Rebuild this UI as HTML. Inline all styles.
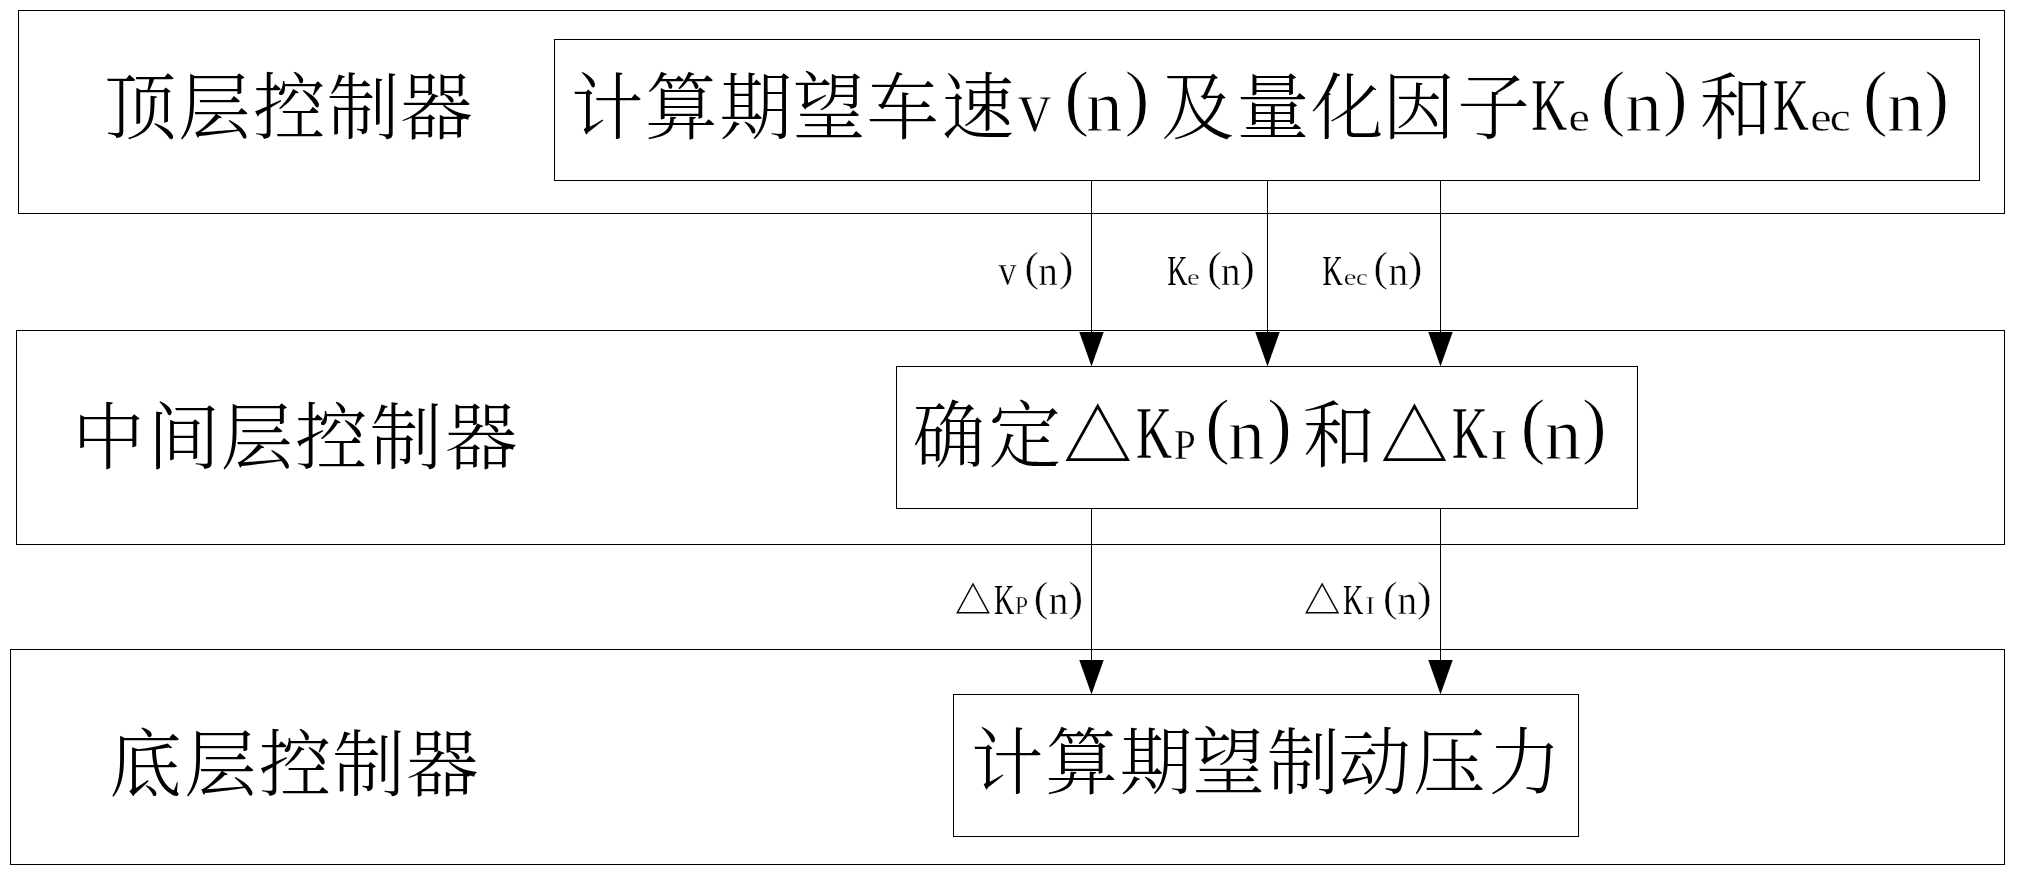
<!DOCTYPE html>
<html lang="zh-CN">
<head>
<meta charset="utf-8">
<title>分层控制器结构图</title>
<style>
html,body{margin:0;padding:0;background:#fff;}
body{width:2019px;height:877px;overflow:hidden;}
svg{display:block;will-change:transform;}
.box{fill:none;stroke:#000;stroke-width:1;shape-rendering:crispEdges;}
.ln{stroke:#000;stroke-width:1;shape-rendering:crispEdges;}
.ah{fill:#000;stroke:none;}
text{fill:#000;font-family:"Liberation Serif","Noto Serif CJK SC",serif;white-space:pre;}
.c{font-family:"Noto Serif CJK SC","Liberation Serif",serif;font-weight:300;}
.l{font-family:"Liberation Serif","Noto Serif CJK SC",serif;font-weight:400;}
.d{font-weight:400;}
.t{stroke:#fff;stroke-width:1.00px;}
.u{stroke:#fff;stroke-width:0.35px;}
.w{stroke:#fff;stroke-width:0.45px;}
.z{stroke:#fff;stroke-width:0.30px;}
.k{stroke:#fff;stroke-width:0.30px;}
.j{stroke:#fff;stroke-width:0.00px;}
</style>
</head>
<body>
<svg width="2019" height="877" viewBox="0 0 2019 877">
<rect x="0" y="0" width="2019" height="877" fill="#fff"/>
<rect class="box" x="18.5" y="10.5" width="1986" height="203"/>
<rect class="box" x="554.5" y="39.5" width="1425" height="141"/>
<rect class="box" x="16.5" y="330.5" width="1988" height="214"/>
<rect class="box" x="896.5" y="366.5" width="741" height="142"/>
<rect class="box" x="10.5" y="649.5" width="1994" height="215"/>
<rect class="box" x="953.5" y="694.5" width="625" height="142"/>
<line class="ln" x1="1091.5" y1="180" x2="1091.5" y2="333"/>
<polygon class="ah" points="1079.3,332 1103.7,332 1091.5,366.5"/>
<line class="ln" x1="1267.5" y1="180" x2="1267.5" y2="333"/>
<polygon class="ah" points="1255.3,332 1279.7,332 1267.5,366.5"/>
<line class="ln" x1="1440.5" y1="180" x2="1440.5" y2="333"/>
<polygon class="ah" points="1428.3,332 1452.7,332 1440.5,366.5"/>
<line class="ln" x1="1091.5" y1="508" x2="1091.5" y2="661"/>
<polygon class="ah" points="1079.3,660 1103.7,660 1091.5,694.5"/>
<line class="ln" x1="1440.5" y1="508" x2="1440.5" y2="661"/>
<polygon class="ah" points="1428.3,660 1452.7,660 1440.5,694.5"/>
<text><tspan class="c" x="104.35" y="133.14" font-size="72.52">顶</tspan><tspan class="c" x="178.33" y="133.14" font-size="72.52">层</tspan><tspan class="c" x="253.02" y="133.14" font-size="72.52">控</tspan><tspan class="c" x="326.97" y="133.14" font-size="72.52">制</tspan><tspan class="c" x="400.37" y="133.14" font-size="72.52">器</tspan></text>
<text><tspan class="c" x="571.10" y="133.03" font-size="72.52">计</tspan><tspan class="c" x="645.02" y="133.03" font-size="72.52">算</tspan><tspan class="c" x="719.49" y="133.03" font-size="72.52">期</tspan><tspan class="c" x="792.64" y="133.03" font-size="72.52">望</tspan><tspan class="c" x="866.57" y="133.03" font-size="72.52">车</tspan><tspan class="c" x="941.42" y="133.03" font-size="72.52">速</tspan><tspan class="l t" x="1017.90" y="130.88" font-size="74.03" textLength="33.00" lengthAdjust="spacingAndGlyphs">v</tspan><tspan class="l t" x="1064.30" y="122.43" font-size="74.55" textLength="25.02" lengthAdjust="spacingAndGlyphs">(</tspan><tspan class="l t" x="1085.70" y="131.30" font-size="73.22" textLength="37.02" lengthAdjust="spacingAndGlyphs">n</tspan><tspan class="l t" x="1124.58" y="122.43" font-size="74.55" textLength="25.02" lengthAdjust="spacingAndGlyphs">)</tspan><tspan class="c" x="1161.59" y="133.03" font-size="72.52">及</tspan><tspan class="c" x="1236.63" y="133.03" font-size="72.52">量</tspan><tspan class="c" x="1311.06" y="133.03" font-size="72.52">化</tspan><tspan class="c" x="1382.58" y="133.03" font-size="72.52">因</tspan><tspan class="c" x="1457.13" y="133.03" font-size="72.52">子</tspan><tspan class="l k" x="1531.27" y="130.40" font-size="74.99" textLength="35.94" lengthAdjust="spacingAndGlyphs">K</tspan><tspan class="l u" x="1568.64" y="130.89" font-size="39.61" textLength="21.41" lengthAdjust="spacingAndGlyphs">e</tspan><tspan class="l t" x="1600.60" y="122.43" font-size="74.55" textLength="25.02" lengthAdjust="spacingAndGlyphs">(</tspan><tspan class="l t" x="1624.90" y="131.30" font-size="73.22" textLength="37.02" lengthAdjust="spacingAndGlyphs">n</tspan><tspan class="l t" x="1662.78" y="122.43" font-size="74.55" textLength="25.02" lengthAdjust="spacingAndGlyphs">)</tspan><tspan class="c" x="1699.68" y="133.03" font-size="72.52">和</tspan><tspan class="l k" x="1772.87" y="130.40" font-size="74.99" textLength="35.94" lengthAdjust="spacingAndGlyphs">K</tspan><tspan class="l u" x="1810.24" y="130.89" font-size="39.61" textLength="21.41" lengthAdjust="spacingAndGlyphs">e</tspan><tspan class="l u" x="1829.82" y="130.89" font-size="39.61" textLength="21.01" lengthAdjust="spacingAndGlyphs">c</tspan><tspan class="l t" x="1862.80" y="122.43" font-size="74.55" textLength="25.02" lengthAdjust="spacingAndGlyphs">(</tspan><tspan class="l t" x="1887.10" y="131.30" font-size="73.22" textLength="37.02" lengthAdjust="spacingAndGlyphs">n</tspan><tspan class="l t" x="1924.38" y="122.43" font-size="74.55" textLength="25.02" lengthAdjust="spacingAndGlyphs">)</tspan></text>
<text><tspan class="c" x="72.31" y="463.06" font-size="72.52">中</tspan><tspan class="c" x="147.40" y="463.06" font-size="72.52">间</tspan><tspan class="c" x="220.73" y="463.06" font-size="72.52">层</tspan><tspan class="c" x="294.97" y="463.06" font-size="72.52">控</tspan><tspan class="c" x="369.87" y="463.06" font-size="72.52">制</tspan><tspan class="c" x="445.07" y="463.06" font-size="72.52">器</tspan></text>
<text><tspan class="c" x="912.59" y="460.56" font-size="72.52">确</tspan><tspan class="c" x="988.48" y="460.56" font-size="72.52">定</tspan><tspan class="c d" x="1063.54" y="462.05" font-size="70.52" textLength="68.51" lengthAdjust="spacingAndGlyphs">△</tspan><tspan class="l k" x="1136.07" y="458.30" font-size="74.99" textLength="35.94" lengthAdjust="spacingAndGlyphs">K</tspan><tspan class="l u" x="1173.90" y="458.98" font-size="42.99" textLength="21.74" lengthAdjust="spacingAndGlyphs">P</tspan><tspan class="l t" x="1204.90" y="450.33" font-size="74.55" textLength="25.02" lengthAdjust="spacingAndGlyphs">(</tspan><tspan class="l t" x="1228.10" y="459.20" font-size="73.22" textLength="37.02" lengthAdjust="spacingAndGlyphs">n</tspan><tspan class="l t" x="1266.88" y="450.33" font-size="74.55" textLength="25.02" lengthAdjust="spacingAndGlyphs">)</tspan><tspan class="c" x="1303.03" y="460.56" font-size="72.52">和</tspan><tspan class="c d" x="1380.68" y="462.05" font-size="70.52" textLength="67.45" lengthAdjust="spacingAndGlyphs">△</tspan><tspan class="l k" x="1451.67" y="458.30" font-size="74.99" textLength="35.94" lengthAdjust="spacingAndGlyphs">K</tspan><tspan class="l u" x="1490.84" y="458.98" font-size="42.99" textLength="16.46" lengthAdjust="spacingAndGlyphs">I</tspan><tspan class="l t" x="1520.60" y="450.33" font-size="74.55" textLength="25.02" lengthAdjust="spacingAndGlyphs">(</tspan><tspan class="l t" x="1544.60" y="459.20" font-size="73.22" textLength="37.02" lengthAdjust="spacingAndGlyphs">n</tspan><tspan class="l t" x="1581.88" y="450.33" font-size="74.55" textLength="25.02" lengthAdjust="spacingAndGlyphs">)</tspan></text>
<text><tspan class="c" x="109.17" y="790.38" font-size="72.52">底</tspan><tspan class="c" x="184.28" y="790.38" font-size="72.52">层</tspan><tspan class="c" x="258.77" y="790.38" font-size="72.52">控</tspan><tspan class="c" x="332.47" y="790.38" font-size="72.52">制</tspan><tspan class="c" x="406.32" y="790.38" font-size="72.52">器</tspan></text>
<text><tspan class="c" x="971.05" y="788.33" font-size="72.52">计</tspan><tspan class="c" x="1045.27" y="788.33" font-size="72.52">算</tspan><tspan class="c" x="1119.69" y="788.33" font-size="72.52">期</tspan><tspan class="c" x="1192.34" y="788.33" font-size="72.52">望</tspan><tspan class="c" x="1266.92" y="788.33" font-size="72.52">制</tspan><tspan class="c" x="1338.40" y="788.33" font-size="72.52">动</tspan><tspan class="c" x="1413.08" y="788.33" font-size="72.52">压</tspan><tspan class="c" x="1488.40" y="788.33" font-size="72.52">力</tspan></text>
<text><tspan class="l w" x="998.38" y="284.50" font-size="43.84" textLength="17.95" lengthAdjust="spacingAndGlyphs">v</tspan><tspan class="l w" x="1024.45" y="280.99" font-size="41.52" textLength="14.59" lengthAdjust="spacingAndGlyphs">(</tspan><tspan class="l w" x="1038.28" y="284.62" font-size="42.98" textLength="19.54" lengthAdjust="spacingAndGlyphs">n</tspan><tspan class="l w" x="1058.66" y="280.99" font-size="41.52" textLength="14.59" lengthAdjust="spacingAndGlyphs">)</tspan></text>
<text><tspan class="l j" x="1167.29" y="284.80" font-size="42.76" textLength="20.30" lengthAdjust="spacingAndGlyphs">K</tspan><tspan class="l z" x="1187.03" y="284.81" font-size="24.12" textLength="12.71" lengthAdjust="spacingAndGlyphs">e</tspan><tspan class="l w" x="1207.15" y="280.99" font-size="41.52" textLength="14.59" lengthAdjust="spacingAndGlyphs">(</tspan><tspan class="l w" x="1220.98" y="284.62" font-size="42.98" textLength="19.54" lengthAdjust="spacingAndGlyphs">n</tspan><tspan class="l w" x="1240.26" y="280.99" font-size="41.52" textLength="14.59" lengthAdjust="spacingAndGlyphs">)</tspan></text>
<text><tspan class="l j" x="1322.59" y="284.80" font-size="42.76" textLength="20.30" lengthAdjust="spacingAndGlyphs">K</tspan><tspan class="l z" x="1343.73" y="284.81" font-size="24.12" textLength="12.71" lengthAdjust="spacingAndGlyphs">e</tspan><tspan class="l z" x="1355.94" y="284.81" font-size="24.12" textLength="11.72" lengthAdjust="spacingAndGlyphs">c</tspan><tspan class="l w" x="1373.55" y="280.99" font-size="41.52" textLength="14.59" lengthAdjust="spacingAndGlyphs">(</tspan><tspan class="l w" x="1388.58" y="284.62" font-size="42.98" textLength="19.54" lengthAdjust="spacingAndGlyphs">n</tspan><tspan class="l w" x="1407.86" y="280.99" font-size="41.52" textLength="14.59" lengthAdjust="spacingAndGlyphs">)</tspan></text>
<text><tspan class="c d" x="955.02" y="614.05" font-size="37.47" textLength="35.96" lengthAdjust="spacingAndGlyphs">△</tspan><tspan class="l j" x="994.09" y="614.40" font-size="42.76" textLength="20.30" lengthAdjust="spacingAndGlyphs">K</tspan><tspan class="l z" x="1015.07" y="614.35" font-size="24.89" textLength="13.12" lengthAdjust="spacingAndGlyphs">P</tspan><tspan class="l w" x="1033.65" y="610.59" font-size="41.52" textLength="14.59" lengthAdjust="spacingAndGlyphs">(</tspan><tspan class="l w" x="1048.68" y="614.23" font-size="42.98" textLength="19.54" lengthAdjust="spacingAndGlyphs">n</tspan><tspan class="l w" x="1068.56" y="610.59" font-size="41.52" textLength="14.59" lengthAdjust="spacingAndGlyphs">)</tspan></text>
<text><tspan class="c d" x="1303.91" y="614.05" font-size="37.47" textLength="36.28" lengthAdjust="spacingAndGlyphs">△</tspan><tspan class="l j" x="1342.89" y="614.40" font-size="42.76" textLength="20.30" lengthAdjust="spacingAndGlyphs">K</tspan><tspan class="l z" x="1365.52" y="614.35" font-size="24.89" textLength="9.53" lengthAdjust="spacingAndGlyphs">I</tspan><tspan class="l w" x="1382.95" y="610.59" font-size="41.52" textLength="14.59" lengthAdjust="spacingAndGlyphs">(</tspan><tspan class="l w" x="1397.38" y="614.23" font-size="42.98" textLength="19.54" lengthAdjust="spacingAndGlyphs">n</tspan><tspan class="l w" x="1417.06" y="610.59" font-size="41.52" textLength="14.59" lengthAdjust="spacingAndGlyphs">)</tspan></text>
</svg>
</body>
</html>
